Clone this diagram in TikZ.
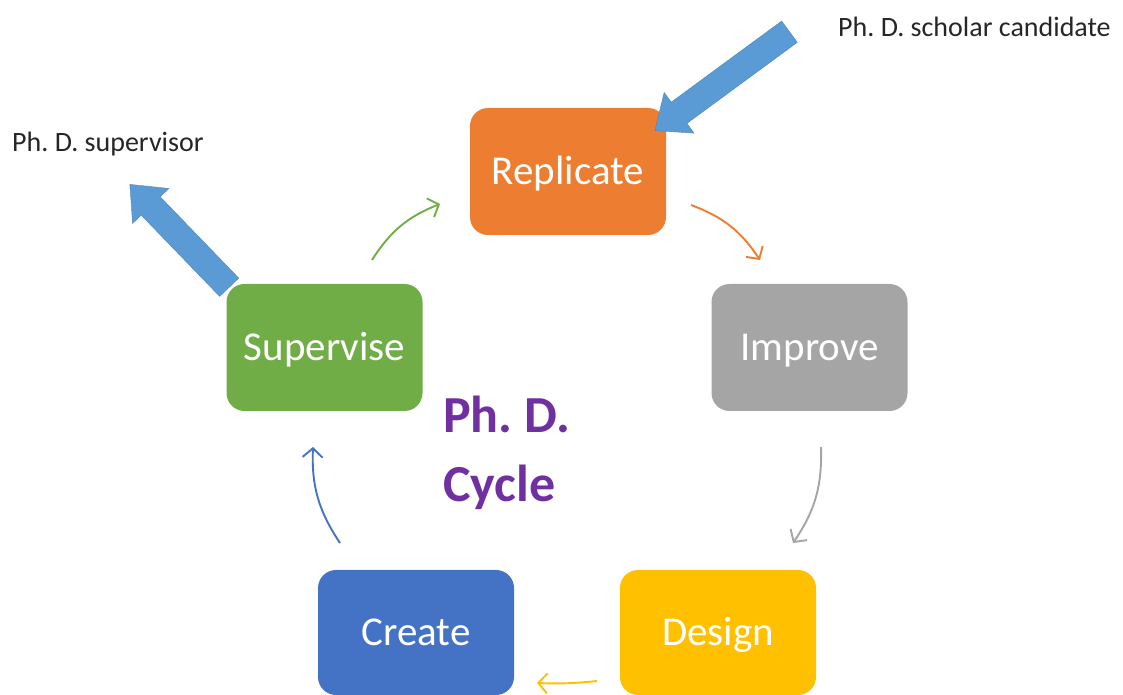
\documentclass[tikz,border=0pt]{standalone}
\usepackage{fontspec}
\setmainfont{Carlito}
\usetikzlibrary{arrows.meta,shapes.arrows}

\definecolor{cOrange}{HTML}{ED7D31}
\definecolor{cGray}{HTML}{A5A5A5}
\definecolor{cYellow}{HTML}{FFC000}
\definecolor{cBlue}{HTML}{4472C4}
\definecolor{cGreen}{HTML}{70AD47}
\definecolor{cSky}{HTML}{5B9BD5}
\definecolor{cPurple}{HTML}{7030A0}

\frenchspacing
\begin{document}
\begin{tikzpicture}[x=1pt,y=1pt,
  stage/.style={rectangle, rounded corners=18pt, minimum width=196pt,
    minimum height=127pt, inner sep=0pt, text=white,
    font=\fontsize{41}{48}\selectfont, text height=26pt, text depth=0pt},
  loop/.style={line width=1.9pt, bend left=18,
    -{Straight Barb[length=9pt,width=20pt,line width=1.9pt]}},
  bigarrow/.style={single arrow, fill=cSky, draw=cSky!85!black, line width=0.4pt,
    inner xsep=0pt, inner ysep=13pt, single arrow head extend=12pt,
    single arrow tip angle=80},
  label/.style={inner sep=0pt, font=\fontsize{28}{32}\selectfont, text=black!85},
  title/.style={inner sep=0pt, font=\bfseries\fontsize{52}{60}\selectfont, text=cPurple}]
\useasboundingbox (0,0) rectangle (1123,695);
\clip (0,0) rectangle (1123,695);

% outgoing arrow behind the Supervise box
\node[bigarrow, minimum height=143pt, rotate=134] (outarrow) at (185,453.5) {};

% the five stages
\node[stage, fill=cOrange] (rep) at (568,523.5) {Replicate};
\node[stage, fill=cGray]   (imp) at (809.5,347.5) {Improve};
\node[stage, fill=cYellow, minimum height=125pt] (des) at (718,62.5) {Design};
\node[stage, fill=cBlue, minimum height=125pt]   (cre) at (416,62.5) {Create};
\node[stage, fill=cGreen]  (sup) at (324.5,347.5) {Supervise};

% incoming arrow onto the Replicate box
\node[bigarrow, minimum height=167pt, rotate=216.3] (inarrow) at (728.5,618.5) {};

% ends of the cycle arrows
\coordinate (g1) at (372,435);  \coordinate (g2) at (440,491);
\coordinate (o1) at (691,490);  \coordinate (o2) at (760,435);
\coordinate (r1) at (821,248);  \coordinate (r2) at (793,152);
\coordinate (y1) at (597,14);   \coordinate (y2) at (537,12);
\coordinate (b1) at (340,152);  \coordinate (b2) at (313,248);

\draw[loop, cGreen]  (g1) to (g2);
\draw[loop, cOrange] (o1) to (o2);
\draw[loop, cGray]   (r1) to (r2);
\draw[loop, cYellow, bend left=4] (y1) to (y2);
\draw[loop, cBlue]   (b1) to (b2);

% labels
\node[label, anchor=base west] (cand) at (838,658) {Ph. D. scholar candidate};
\node[label, anchor=base west] (supv) at (12,543) {Ph. D. supervisor};
\node[title, anchor=base west] (t1) at (443,262) {Ph. D.};
\node[title, anchor=base west] (t2) at (443,193) {Cycle};
\end{tikzpicture}
\end{document}
